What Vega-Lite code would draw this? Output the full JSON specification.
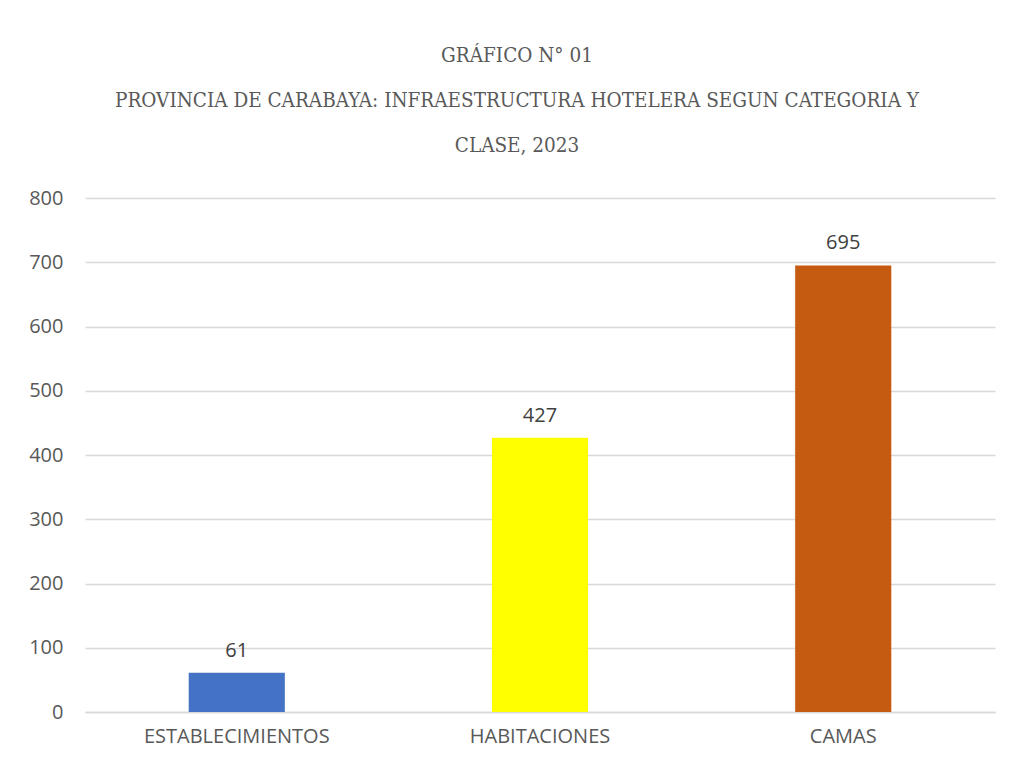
{
  "$schema": "https://vega.github.io/schema/vega-lite/v6.json",
  "width": 910,
  "height": 514,
  "autosize": "none",
  "padding": {"left": 85, "top": 198, "right": 16, "bottom": 54},
  "background": "white",
  "title": {
    "text": ["GRÁFICO N° 01", "PROVINCIA DE CARABAYA: INFRAESTRUCTURA HOTELERA SEGUN CATEGORIA Y", "CLASE, 2023"],
    "font": "DejaVu Serif Condensed",
    "fontSize": 20.5,
    "fontWeight": "normal",
    "color": "#595959",
    "lineHeight": 45,
    "anchor": "middle",
    "dx": -23,
    "offset": 32
  },
  "data": {
    "values": [
      {"categoria": "ESTABLECIMIENTOS", "valor": 61},
      {"categoria": "HABITACIONES", "valor": 427},
      {"categoria": "CAMAS", "valor": 695}
    ]
  },
  "config": {
    "view": {"stroke": null},
    "axis": {
      "labelFont": "Open Sans",
      "labelFontSize": 20,
      "labelColor": "#595959",
      "labelLimit": 0,
      "ticks": false,
      "title": null,
      "gridColor": "#D9D9D9",
      "gridWidth": 1.3
    }
  },
  "encoding": {
    "x": {
      "field": "categoria",
      "type": "nominal",
      "sort": null,
      "scale": {"paddingInner": 0.683, "paddingOuter": 0.342},
      "axis": {"labelAngle": 0, "labelLimit": 0, "labelOverlap": false, "domainColor": "#D9D9D9", "domainWidth": 1.3, "labelPadding": 14, "grid": false}
    },
    "y": {
      "field": "valor",
      "type": "quantitative",
      "scale": {"domain": [0, 800]},
      "axis": {"values": [0, 100, 200, 300, 400, 500, 600, 700, 800], "labelOverlap": false, "domain": false, "labelPadding": 22}
    }
  },
  "layer": [
    {
      "mark": {"type": "bar"},
      "encoding": {
        "color": {
          "field": "categoria",
          "type": "nominal",
          "scale": {"domain": ["ESTABLECIMIENTOS", "HABITACIONES", "CAMAS"], "range": ["#4472C4", "#FFFF00", "#C55A11"]},
          "legend": null
        }
      }
    },
    {
      "mark": {"type": "text", "baseline": "bottom", "dy": -12, "font": "Open Sans", "fontSize": 20, "color": "#404040"},
      "encoding": {"text": {"field": "valor", "type": "quantitative"}}
    }
  ]
}
